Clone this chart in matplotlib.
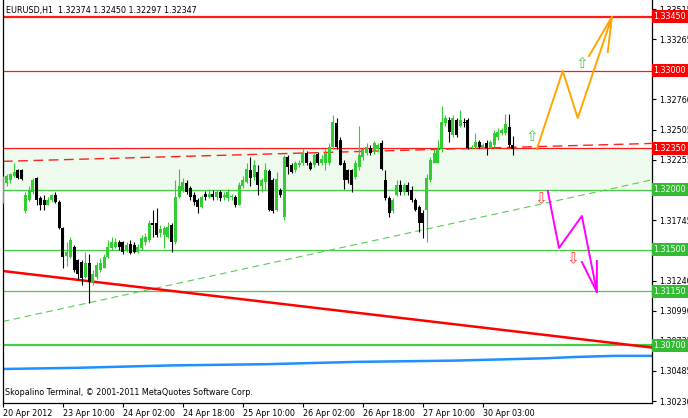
import matplotlib.pyplot as plt
import numpy as np

plt.rcParams['font.family'] = ['DejaVu Sans']

# EURUSD H1 candles, one per bar (bar index = position on chart)
opens = [1.3192, 1.3206, 1.3208, 1.3212, 1.3217, 1.3217, 1.3182, 1.3192, 1.3198, 1.3210,
         1.3193, 1.3192, 1.3187, 1.3192, 1.3196, 1.3190, 1.3168, 1.3145, 1.3144, 1.3152,
         1.3141, 1.3140, 1.3127, 1.3139, 1.3122, 1.3127, 1.3133, 1.3135, 1.3144, 1.3151,
         1.3152, 1.3156, 1.3156, 1.3150, 1.3155, 1.3154, 1.3148, 1.3151, 1.3156, 1.3158,
         1.3172, 1.3172, 1.3164, 1.3162, 1.3161, 1.3171, 1.3156, 1.3194, 1.3200, 1.3206,
         1.3202, 1.3196, 1.3192, 1.3186, 1.3197, 1.3194, 1.3197, 1.3194, 1.3198, 1.3194,
         1.3193, 1.3194, 1.3194, 1.3187, 1.3203, 1.3207, 1.3217, 1.3211, 1.3215, 1.3203,
         1.3207, 1.3216, 1.3208, 1.3183, 1.3200, 1.3177, 1.3228, 1.3221, 1.3217, 1.3221,
         1.3223, 1.3231, 1.3223, 1.3221, 1.3230, 1.3223, 1.3223, 1.3223, 1.3236, 1.3256,
         1.3242, 1.3223, 1.3217, 1.3217, 1.3211, 1.3219, 1.3228, 1.3231, 1.3235, 1.3232,
         1.3234, 1.3239, 1.3208, 1.3193, 1.3182, 1.3196, 1.3204, 1.3198, 1.3204, 1.3200,
         1.3192, 1.3186, 1.3181, 1.3183, 1.3208, 1.3223, 1.3223, 1.3234, 1.3256, 1.3259,
         1.3246, 1.3259, 1.3254, 1.3257, 1.3259, 1.3235, 1.3236, 1.3240, 1.3235, 1.3239,
         1.3235, 1.3238, 1.3244, 1.3248, 1.3248, 1.3253, 1.32374]
highs = [1.3212, 1.3213, 1.3214, 1.3223, 1.3218, 1.3218, 1.3198, 1.3203, 1.3210, 1.3211,
         1.3195, 1.3196, 1.3194, 1.3197, 1.3198, 1.3192, 1.3169, 1.3156, 1.3161, 1.3154,
         1.3142, 1.3141, 1.3148, 1.3146, 1.3133, 1.3140, 1.3143, 1.3146, 1.3158, 1.3161,
         1.3160, 1.3158, 1.3157, 1.3156, 1.3158, 1.3156, 1.3155, 1.3162, 1.3164, 1.3175,
         1.3183, 1.3185, 1.3171, 1.3170, 1.3173, 1.3172, 1.3208, 1.3218, 1.3210, 1.3208,
         1.3203, 1.3198, 1.3193, 1.3196, 1.3199, 1.3201, 1.3200, 1.3200, 1.3200, 1.3198,
         1.3201, 1.3197, 1.3196, 1.3207, 1.3212, 1.3223, 1.3228, 1.3225, 1.3221, 1.3210,
         1.3223, 1.3218, 1.3210, 1.3215, 1.3202, 1.3229, 1.3229, 1.3223, 1.3224, 1.3225,
         1.3234, 1.3233, 1.3224, 1.3231, 1.3232, 1.3229, 1.3234, 1.3239, 1.3263, 1.3260,
         1.3244, 1.3225, 1.3218, 1.3218, 1.3225, 1.3254, 1.3236, 1.3239, 1.3238, 1.3241,
         1.3239, 1.3242, 1.3217, 1.3195, 1.3193, 1.3208, 1.3208, 1.3206, 1.3207, 1.3203,
         1.3193, 1.3187, 1.3183, 1.3213, 1.3228, 1.3234, 1.3242, 1.3270, 1.3263, 1.3261,
         1.3263, 1.3260, 1.3267, 1.3260, 1.3260, 1.3238, 1.3248, 1.3242, 1.3239, 1.3242,
         1.3242, 1.3250, 1.3252, 1.3252, 1.3264, 1.3264, 1.32450]
lows = [1.3189, 1.3203, 1.3206, 1.3211, 1.3209, 1.3208, 1.3181, 1.3191, 1.3197, 1.3187,
        1.3183, 1.3183, 1.3187, 1.3190, 1.3189, 1.3167, 1.3135, 1.3136, 1.3143, 1.3131,
        1.3125, 1.3120, 1.3126, 1.3105, 1.3120, 1.3125, 1.3131, 1.3135, 1.3143, 1.3150,
        1.3151, 1.3150, 1.3146, 1.3148, 1.3146, 1.3147, 1.3147, 1.3150, 1.3154, 1.3156,
        1.3161, 1.3161, 1.3161, 1.3151, 1.3160, 1.3148, 1.3155, 1.3193, 1.3198, 1.3197,
        1.3192, 1.3187, 1.3181, 1.3185, 1.3192, 1.3193, 1.3192, 1.3192, 1.3191, 1.3192,
        1.3191, 1.3192, 1.3186, 1.3187, 1.3202, 1.3206, 1.3203, 1.3208, 1.3196, 1.3198,
        1.3200, 1.3182, 1.3181, 1.3182, 1.3194, 1.3175, 1.3213, 1.3214, 1.3215, 1.3219,
        1.3221, 1.3221, 1.3217, 1.3219, 1.3221, 1.3221, 1.3217, 1.3221, 1.3234, 1.3234,
        1.3221, 1.3201, 1.3206, 1.3198, 1.3209, 1.3217, 1.3225, 1.3229, 1.3229, 1.3230,
        1.3232, 1.3217, 1.3192, 1.3177, 1.3181, 1.3195, 1.3196, 1.3196, 1.3196, 1.3190,
        1.3182, 1.3165, 1.3160, 1.3156, 1.3207, 1.3223, 1.3223, 1.3232, 1.3254, 1.3240,
        1.3244, 1.3244, 1.3253, 1.3253, 1.3234, 1.3234, 1.3235, 1.3235, 1.3234, 1.3229,
        1.3235, 1.3236, 1.3242, 1.3246, 1.3246, 1.3236, 1.32297]
closes = [1.3208, 1.3212, 1.3213, 1.3215, 1.3210, 1.3209, 1.3196, 1.3200, 1.3208, 1.3192,
          1.3187, 1.3187, 1.3192, 1.3196, 1.3190, 1.3168, 1.3144, 1.3148, 1.3158, 1.3133,
          1.3130, 1.3126, 1.3139, 1.3123, 1.3130, 1.3137, 1.3139, 1.3144, 1.3152, 1.3156,
          1.3156, 1.3152, 1.3148, 1.3154, 1.3147, 1.3148, 1.3152, 1.3160, 1.3161, 1.3172,
          1.3171, 1.3162, 1.3167, 1.3168, 1.3169, 1.3156, 1.3194, 1.3203, 1.3207, 1.3198,
          1.3194, 1.3190, 1.3186, 1.3194, 1.3194, 1.3197, 1.3194, 1.3198, 1.3193, 1.3196,
          1.3198, 1.3195, 1.3187, 1.3204, 1.3208, 1.3218, 1.3210, 1.3221, 1.3204, 1.3208,
          1.3217, 1.3183, 1.3182, 1.3209, 1.3196, 1.3228, 1.3219, 1.3215, 1.3223, 1.3223,
          1.3231, 1.3223, 1.3218, 1.3229, 1.3223, 1.3226, 1.3231, 1.3236, 1.3257, 1.3236,
          1.3221, 1.3208, 1.3208, 1.3204, 1.3223, 1.3229, 1.3234, 1.3236, 1.3231, 1.3239,
          1.3238, 1.3218, 1.3193, 1.3181, 1.3192, 1.3204, 1.3198, 1.3204, 1.3198, 1.3192,
          1.3183, 1.3172, 1.3172, 1.3210, 1.3225, 1.3231, 1.3234, 1.3257, 1.3260, 1.3249,
          1.3260, 1.3246, 1.3259, 1.3256, 1.3235, 1.3236, 1.3240, 1.3236, 1.3238, 1.3235,
          1.3240, 1.3248, 1.3249, 1.3250, 1.3255, 1.3238, 1.32347]

time_ticks = [0, 16, 32, 48, 64, 80, 96, 112, 128]
time_labels = ['20 Apr 2012', '23 Apr 10:00', '24 Apr 02:00', '24 Apr 18:00', '25 Apr 10:00',
               '26 Apr 02:00', '26 Apr 18:00', '27 Apr 10:00', '30 Apr 03:00']
price_ticks = [1.33515, 1.33265, 1.32760, 1.32505, 1.32255, 1.31745, 1.31240, 1.30990,
               1.30735, 1.30485, 1.30230]

# horizontal levels
red_levels = [1.3345, 1.3300, 1.3235]
green_levels = [1.3200, 1.3150, 1.3115, 1.3070]

# trend lines as (bar, price) end points
red_dash_x, red_dash_y = [0, 173], [1.3224, 1.3239]
green_dash_x, green_dash_y = [0, 173], [1.30898, 1.32084]
red_trend_x, red_trend_y = [0, 173], [1.31321, 1.30680]
blue_x = [0, 20, 45, 70, 95, 120, 145, 152, 163, 173]
blue_y = [1.3050, 1.3051, 1.3053, 1.3054, 1.3056, 1.3057, 1.3059, 1.3060, 1.3061, 1.3061]

# forecast zigzags
up_x = [142.4, 149.3, 153.3, 162.4]
up_y = [1.32344, 1.32997, 1.32603, 1.33450]
up_head_x = [156.3, 162.4, 161.3]
up_head_y = [1.33123, 1.33450, 1.33156]
dn_x = [145.3, 148.3, 154.4, 158.4]
dn_y = [1.31992, 1.31514, 1.31782, 1.31145]
dn_head_x = [154.4, 158.4, 158.4]
dn_head_y = [1.31397, 1.31145, 1.31405]
up_arrows = [(141.1, 1.32447), (154.3, 1.33062)]
dn_arrows = [(143.5, 1.31925), (152.0, 1.31426)]

W, H = 688, 418
fig = plt.figure(figsize=(W / 100, H / 100), dpi=100)
ax = fig.add_axes([2.5 / W, 15 / H, (652 - 2.5) / W, 403 / H])
ax.set_xlim(-0.1, 173.1)
ax.set_ylim(1.30215, 1.33592)

# zone and levels
ax.axhspan(1.3200, 1.3235, color='#edfaed', lw=0, zorder=0)
for lv in red_levels:
    lw = 1.6 if lv == 1.3345 else 0.9
    ax.axhline(lv, color='#ff1a1a', lw=lw, zorder=1)
for lv in green_levels:
    lw = 1.6 if lv == 1.3070 else 0.9
    ax.axhline(lv, color='#44cc44', lw=lw, zorder=1)

ax.plot(red_dash_x, red_dash_y, color='#ff2020', lw=1.0, dashes=(7, 4), zorder=1)
ax.plot(green_dash_x, green_dash_y, color='#55cc55', lw=0.8, dashes=(6, 4), zorder=1)
ax.plot(red_trend_x, red_trend_y, color='#ff0000', lw=1.8, zorder=2)
ax.plot(blue_x, blue_y, color='#1e90ff', lw=1.8, zorder=2)

# candles
x = np.arange(len(closes))
o = np.array(opens)
c = np.array(closes)
up = c >= o
cols = np.where(up, '#33cc33', '#000000')
ax.vlines(x, lows, highs, colors=cols, lw=0.8, zorder=3)
body = np.maximum(np.abs(c - o), 0.00004)
ax.bar(x, body, bottom=np.minimum(o, c), width=0.75, color=cols, lw=0, zorder=4)

# forecast paths
ax.plot(up_x, up_y, color='#ffa500', lw=1.4, zorder=5)
ax.plot(up_head_x, up_head_y, color='#ffa500', lw=1.4, zorder=5)
ax.plot(dn_x, dn_y, color='#ff00ff', lw=1.4, zorder=5)
ax.plot(dn_head_x, dn_head_y, color='#ff00ff', lw=1.4, zorder=5)
for bx, py in up_arrows:
    ax.text(bx, py, '\u21e7', color='#55c855', fontsize=11, ha='center', va='center', zorder=6)
for bx, py in dn_arrows:
    ax.text(bx, py, '\u21e9', color='#ff4040', fontsize=11, ha='center', va='center', zorder=6)

# axes styling
ax.spines['top'].set_visible(False)
for s in ['left', 'right', 'bottom']:
    ax.spines[s].set_color('black')
    ax.spines[s].set_linewidth(0.9)
ax.yaxis.tick_right()
ax.set_yticks(price_ticks)
ax.set_yticklabels(['%.5f' % v for v in price_ticks])
ax.set_xticks(time_ticks)
ax.set_xticklabels(time_labels)
for lab in ax.get_xticklabels():
    lab.set_ha('left')
ax.tick_params(axis='both', labelsize=5.8, length=3, width=0.8, pad=1.5, colors='black')
ax.tick_params(axis='y', pad=2.5)

# level price boxes on the right axis
for lv in red_levels:
    ax.text(1.0025, lv, '%.5f' % lv, transform=ax.get_yaxis_transform(), fontsize=5.8,
            color='white', va='center', ha='left', clip_on=False, zorder=10,
            bbox=dict(boxstyle='square,pad=0.25', fc='#ff0000', ec='none'))
for lv in green_levels:
    ax.text(1.0025, lv, '%.5f' % lv, transform=ax.get_yaxis_transform(), fontsize=5.8,
            color='white', va='center', ha='left', clip_on=False, zorder=10,
            bbox=dict(boxstyle='square,pad=0.25', fc='#33bb33', ec='none'))

ax.text(0.006, 0.975, 'EURUSD,H1  1.32374 1.32450 1.32297 1.32347', transform=ax.transAxes,
        fontsize=5.8, va='center', ha='left', zorder=10)
ax.text(0.004, 0.025, 'Skopalino Terminal, \u00a9 2001-2011 MetaQuotes Software Corp.',
        transform=ax.transAxes, fontsize=5.8, va='center', ha='left', zorder=10)

fig.savefig('out.png', dpi=100)
